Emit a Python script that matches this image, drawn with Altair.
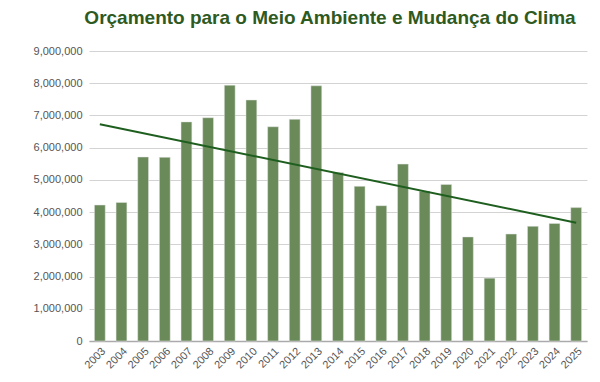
import altair as alt
import pandas as pd

years = list(range(2003, 2026))
values = [4220000, 4300000, 5710000, 5700000, 6800000, 6930000, 7940000, 7480000,
          6650000, 6880000, 7920000, 5230000, 4800000, 4200000, 5490000, 4650000,
          4860000, 3230000, 1950000, 3320000, 3560000, 3650000, 4140000]

title_text = "Orçamento para o Meio Ambiente e Mudança do Clima"
y_ticks = [0, 1000000, 2000000, 3000000, 4000000, 5000000, 6000000, 7000000, 8000000, 9000000]

df = pd.DataFrame({"year": years, "value": values})

x_enc = alt.X("year:O", title=None,
              scale=alt.Scale(paddingInner=0.5, paddingOuter=0.25),
              axis=alt.Axis(labelAngle=-45, labelFontSize=11, labelColor="#555555",
                            labelFont="Liberation Sans", ticks=False, domain=True,
                            domainColor="#aaaaaa", domainWidth=1.5, labelPadding=4))
y_enc = alt.Y("value:Q", title=None,
              scale=alt.Scale(domain=[0, 9000000], nice=False),
              axis=alt.Axis(values=y_ticks, format=",d", labelFontSize=11,
                            labelColor="#555555", labelFont="Liberation Sans",
                            ticks=False, domain=False, gridColor="#d3d3d3",
                            labelPadding=7, labelOverlap=False))

bars = alt.Chart(df).mark_bar(color="#6a8a5a", stroke="#e6e6e6", strokeWidth=0.5).encode(
    x=x_enc, y=y_enc
)

trend = alt.Chart(df).transform_regression(
    "year", "value", extent=[2003, 2025]
).mark_line(color="#1e5e1e", strokeWidth=2).encode(
    x=x_enc, y=y_enc
)

chart = alt.layer(bars, trend).properties(
    width=498,
    height=290,
    title=alt.TitleParams(title_text, fontSize=19, font="Liberation Sans",
                          fontWeight="bold", color="#2e5a1f", anchor="middle",
                          frame="group", dx=-8, offset=17),
    padding={"left": 81, "top": 43, "right": 5, "bottom": 40},
    autosize=alt.AutoSizeParams(type="none"),
).configure_view(stroke=None)

chart.save("out.html", embed_options={"renderer": "svg", "actions": False})
